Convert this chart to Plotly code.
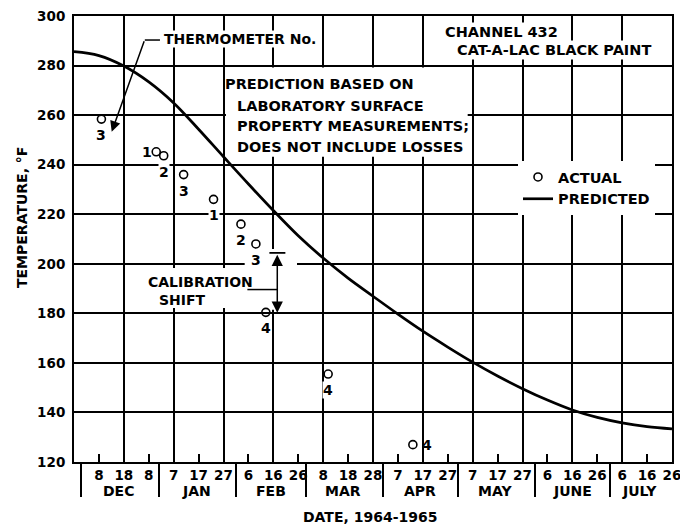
import plotly.graph_objects as go

# ---------------- data ----------------
actual_dates = ["1964-12-09", "1964-12-31", "1965-01-03", "1965-01-11", "1965-01-23",
                "1965-02-03", "1965-02-09", "1965-02-13", "1965-03-10", "1965-04-13"]
actual_temps = [258.4, 245.2, 243.6, 236.0, 226.0, 216.0, 208.0, 180.4, 155.5, 127.0]
thermometer_no = ["3", "1", "2", "3", "1", "2", "3", "4", "4", "4"]
label_side = ["below", "left", "below", "below", "below", "below", "below", "below", "below", "right"]

predicted_dates = ["1964-11-28", "1964-12-08", "1964-12-18", "1964-12-28", "1965-01-07",
                   "1965-01-17", "1965-01-27", "1965-02-06", "1965-02-16", "1965-02-26",
                   "1965-03-08", "1965-03-18", "1965-03-28", "1965-04-07", "1965-04-17",
                   "1965-04-27", "1965-05-07", "1965-05-17", "1965-05-27", "1965-06-06",
                   "1965-06-16", "1965-06-26", "1965-07-06", "1965-07-16", "1965-07-26"]
predicted_temps = [285.6, 284.0, 279.8, 273.4, 264.9, 254.3, 243.2, 232.2, 221.5, 211.3,
                   202.3, 194.2, 186.9, 179.7, 172.8, 166.4, 160.3, 154.7, 149.6, 145.0,
                   141.0, 138.0, 135.8, 134.3, 133.4]

day_tick_dates = ["1964-12-08", "1964-12-18", "1964-12-28", "1965-01-07", "1965-01-17",
                  "1965-01-27", "1965-02-06", "1965-02-16", "1965-02-26", "1965-03-08",
                  "1965-03-18", "1965-03-28", "1965-04-07", "1965-04-17", "1965-04-27",
                  "1965-05-07", "1965-05-17", "1965-05-27", "1965-06-06", "1965-06-16",
                  "1965-06-26", "1965-07-06", "1965-07-16", "1965-07-26"]
day_tick_text = ["8", "18", "8", "7", "17", "27", "6", "16", "26", "8", "18", "28",
                 "7", "17", "27", "7", "17", "27", "6", "16", "26", "6", "16", "26"]
grid_dates = ["1964-12-18", "1965-01-07", "1965-01-27", "1965-02-16", "1965-03-08",
              "1965-03-28", "1965-04-17", "1965-05-07", "1965-05-27", "1965-06-16",
              "1965-07-06"]
month_starts = ["1964-12-01", "1965-01-01", "1965-02-01", "1965-03-01", "1965-04-01",
                "1965-05-01", "1965-06-01", "1965-07-01"]
month_names = ["DEC", "JAN", "FEB", "MAR", "APR", "MAY", "JUNE", "JULY"]
month_centers = ["1964-12-16", "1965-01-16", "1965-02-15", "1965-03-16", "1965-04-16",
                 "1965-05-16", "1965-06-16", "1965-07-13"]
y_ticks = [120, 140, 160, 180, 200, 220, 240, 260, 280, 300]

x_range = ["1964-11-28", "1965-07-26"]
y_range = [120, 300]

# ---------------- layout helpers ----------------
W, H = 680, 526
PL, PR, PT, PB = 74, 672, 16, 462
FONT = "DejaVu Sans"


def px(x):
    return (x - PL) / (PR - PL)


def py(y):
    return (PB - y) / (PB - PT)


def bold(size):
    return dict(size=size, family=FONT, color="black", weight="bold")


fig = go.Figure()

fig.add_trace(go.Scatter(
    x=actual_dates, y=actual_temps, mode="markers", name="ACTUAL",
    marker=dict(symbol="circle-open", size=8, color="black", line=dict(width=1.6, color="black")),
))
fig.add_trace(go.Scatter(
    x=predicted_dates, y=predicted_temps, mode="lines", name="PREDICTED",
    line=dict(color="black", width=2.7, shape="spline", smoothing=1.0),
))
# empty helper traces so the overlay axes (grid, month separators) are drawn
fig.add_trace(go.Scatter(x=[], y=[], xaxis="x2", showlegend=False, hoverinfo="skip"))
fig.add_trace(go.Scatter(x=[], y=[], xaxis="x3", showlegend=False, hoverinfo="skip"))

annotations = []
# thermometer number labels
for d, t, n, side in zip(actual_dates, actual_temps, thermometer_no, label_side):
    a = dict(x=d, y=t, xref="x", yref="y", text=n, showarrow=False, font=bold(14))
    if side == "below":
        a.update(yshift=-16, bgcolor="white", borderpad=0)
    elif side == "left":
        a.update(xshift=-9)
    else:
        a.update(xshift=14)
    annotations.append(a)

# "THERMOMETER No." note + arrow
annotations.append(dict(xref="paper", yref="paper", x=px(163), y=py(39), xanchor="left",
                        yanchor="middle", text="THERMOMETER No.", showarrow=False,
                        bgcolor="white", borderpad=0, font=bold(14)))
annotations.append(dict(x="1964-12-13 03:00", y=253.3, xref="x", yref="y", text="",
                        showarrow=True, ax=33, ay=-92, arrowhead=2, arrowsize=1.4,
                        arrowwidth=1.5, arrowcolor="black"))

# prediction note
pred_note = [("PREDICTION BASED ON", 223, 84), ("LABORATORY SURFACE", 235, 106),
             ("PROPERTY MEASUREMENTS;", 235, 126), ("DOES NOT INCLUDE LOSSES", 235, 147)]
for txt, xl, yc in pred_note:
    annotations.append(dict(xref="paper", yref="paper", x=px(xl), y=py(yc), xanchor="left",
                            yanchor="middle", text=txt, showarrow=False, font=bold(14.5)))

# channel note
for txt, xl, yc in [("CHANNEL 432", 443, 32), ("CAT-A-LAC BLACK PAINT", 455, 50)]:
    annotations.append(dict(xref="paper", yref="paper", x=px(xl), y=py(yc), xanchor="left",
                            yanchor="middle", text=txt, showarrow=False, bgcolor="white",
                            borderpad=1, font=bold(14.5)))

# calibration shift
for txt, xl, yc in [("CALIBRATION", 146, 282), ("SHIFT", 157, 300)]:
    annotations.append(dict(xref="paper", yref="paper", x=px(xl), y=py(yc), xanchor="left",
                            yanchor="middle", text=txt, showarrow=False, font=bold(14)))
annotations.append(dict(x="1965-02-17 14:00", y=180.2, xref="x", yref="y",
                        ax="1965-02-17 14:00", ay=204.2, axref="x", ayref="y", text="",
                        showarrow=True, arrowside="end+start", arrowhead=2, startarrowhead=2,
                        arrowsize=1.5, startarrowsize=1.5, arrowwidth=1.5, arrowcolor="black"))

# month names
for name, c in zip(month_names, month_centers):
    annotations.append(dict(x=c, y=py(491), xref="x", yref="paper", text=name,
                            showarrow=False, xanchor="center", yanchor="middle", font=bold(14)))

# axis titles
annotations.append(dict(xref="paper", yref="paper", x=px(370), y=py(517), text="DATE, 1964-1965",
                        showarrow=False, xanchor="center", yanchor="middle", font=bold(14)))
annotations.append(dict(xref="paper", yref="paper", x=px(22), y=py(218), text="TEMPERATURE, °F",
                        showarrow=False, textangle=-90, xanchor="center", yanchor="middle",
                        font=bold(14)))

shapes = [
    # white masks hiding grid lines behind notes
    dict(type="rect", xref="x", yref="y", x0="1965-01-28", x1="1965-05-05", y0=243.2, y1=279.2,
         fillcolor="white", line=dict(width=0), layer="between"),
    dict(type="rect", xref="x", yref="y", x0="1964-12-24 12:00", x1="1965-02-09", y0=182.2, y1=198.3,
         fillcolor="white", line=dict(width=0), layer="between"),
    dict(type="rect", xref="x", yref="y", x0="1965-02-04 12:00", x1="1965-02-25 12:00", y0=181.4, y1=206.0,
         fillcolor="white", line=dict(width=0), layer="between"),
    # leader pieces
    dict(type="line", xref="x", yref="y", x0="1964-12-26 10:00", x1="1965-01-01 12:00", y0=290.3, y1=290.3,
         line=dict(color="black", width=1.5)),
    dict(type="line", xref="x", yref="y", x0="1965-02-05 14:00", x1="1965-02-17 14:00", y0=189.6, y1=189.6,
         line=dict(color="black", width=1.5)),
    dict(type="line", xref="x", yref="y", x0="1965-02-14 10:00", x1="1965-02-20 20:00", y0=204.4, y1=204.4,
         line=dict(color="black", width=1.8)),
]

fig.update_layout(
    width=W, height=H,
    margin=dict(l=PL, r=W - PR, t=PT, b=H - PB, autoexpand=False),
    paper_bgcolor="white", plot_bgcolor="white",
    font=bold(14),
    showlegend=True,
    legend=dict(x=px(518), y=py(161), xanchor="left", yanchor="top", bgcolor="white",
                font=bold(14.5), itemwidth=30, tracegroupgap=0, borderwidth=0),
    xaxis=dict(type="date", range=x_range, tickmode="array", tickvals=day_tick_dates,
               ticktext=day_tick_text, ticks="inside", ticklen=8, tickwidth=1.5,
               tickcolor="black", showgrid=False, showline=True, mirror=True, linewidth=2,
               linecolor="black", tickangle=0, zeroline=False, ticklabeloverflow="allow",
               tickfont=bold(13.5)),
    xaxis2=dict(type="date", range=x_range, overlaying="x", anchor="y", side="bottom",
                tickmode="array", tickvals=grid_dates, showgrid=True, gridcolor="black",
                gridwidth=1.5, ticks="", showticklabels=False, showline=False, zeroline=False),
    xaxis3=dict(type="date", range=x_range, overlaying="x", anchor="y", side="bottom",
                tickmode="array", tickvals=month_starts, showgrid=False, ticks="outside",
                ticklen=34, tickwidth=1.5, tickcolor="black", showticklabels=False,
                showline=False, zeroline=False),
    yaxis=dict(range=y_range, tickmode="array", tickvals=y_ticks, showgrid=True,
               gridcolor="black", gridwidth=1.5, showline=True, mirror=True, linewidth=2,
               linecolor="black", ticks="", zeroline=False, ticklabelstandoff=4,
               tickfont=bold(13.5)),
    annotations=annotations,
    shapes=shapes,
)

fig.write_html("out.html", config={"displayModeBar": False},
               post_script="document.body.style.margin='0';document.body.style.overflow='hidden';")
